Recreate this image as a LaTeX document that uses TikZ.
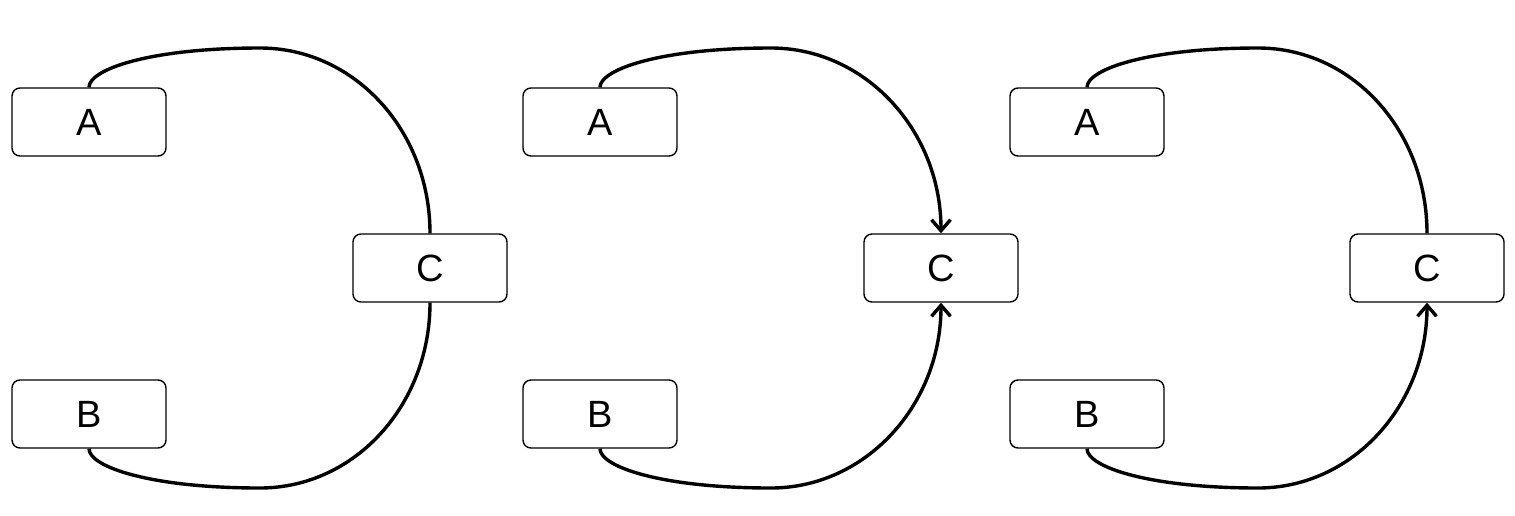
\documentclass[tikz,border=0pt]{standalone}
\usepackage{fontspec}
\setmainfont{Liberation Sans}
\usetikzlibrary{arrows.meta}
\begin{document}
\begin{tikzpicture}[x=0.5pt,y=-0.5pt,
  box/.style={draw,line width=0.7pt,rounded corners=4pt,minimum width=77pt,minimum height=34pt,inner sep=0pt,font=\fontsize{19}{21}\selectfont},
  wire/.style={line width=1.7pt},
  tip/.style={-{Straight Barb[length=5.5pt,width=9.5pt,line width=1.7pt]}}]
\useasboundingbox (0,0) rectangle (1515,515);

% left panel: both curves without tips
\node[box] (a1) at (89,122) {A};
\node[box] (b1) at (89,414) {B};
\node[box] (c1) at (430,268) {C};
\coordinate (t1) at (260,48);
\coordinate (u1) at (260,488);
\draw[wire] (a1.north) .. controls +(0,-18) and +(-110,0) .. (t1)
  .. controls +(94,0) and +(0,-103) .. (c1.north);
\draw[wire] (b1.south) .. controls +(0,18) and +(-110,0) .. (u1)
  .. controls +(94,0) and +(0,103) .. (c1.south);

% middle panel: both curves end in tips at C
\node[box] (a2) at (600,122) {A};
\node[box] (b2) at (600,414) {B};
\node[box] (c2) at (941,268) {C};
\coordinate (t2) at (771,48);
\coordinate (u2) at (771,488);
\draw[wire,tip] (a2.north) .. controls +(0,-18) and +(-110,0) .. (t2)
  .. controls +(94,0) and +(0,-103) .. (c2.north);
\draw[wire,tip] (b2.south) .. controls +(0,18) and +(-110,0) .. (u2)
  .. controls +(94,0) and +(0,103) .. (c2.south);

% right panel: only the lower curve has a tip
\node[box] (a3) at (1087,122) {A};
\node[box] (b3) at (1087,414) {B};
\node[box] (c3) at (1427,268) {C};
\coordinate (t3) at (1258,48);
\coordinate (u3) at (1258,488);
\draw[wire] (a3.north) .. controls +(0,-18) and +(-110,0) .. (t3)
  .. controls +(94,0) and +(0,-103) .. (c3.north);
\draw[wire,tip] (b3.south) .. controls +(0,18) and +(-110,0) .. (u3)
  .. controls +(94,0) and +(0,103) .. (c3.south);
\end{tikzpicture}
\end{document}
